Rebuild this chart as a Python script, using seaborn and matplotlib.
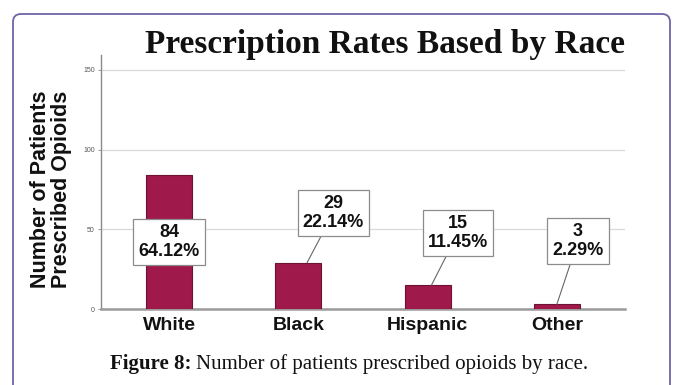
import matplotlib
matplotlib.use("Agg")
import matplotlib.pyplot as plt
from matplotlib.patches import FancyBboxPatch
from matplotlib.transforms import IdentityTransform
import seaborn as sns
import pandas as pd

# ---- data ----
races = ["White", "Black", "Hispanic", "Other"]
counts = [84, 29, 15, 3]
y_ticks = [0, 50, 100, 150]
title = "Prescription Rates Based by Race"
ylabel = "Number of Patients\nPrescribed Opioids"
caption_bold = "Figure 8:"
caption_rest = "Number of patients prescribed opioids by race."

# label box placement (styling): (x offset from bar centre, y of box centre), leader anchor x offset
label_pos = [(0.0, 42.0), (0.27, 60.3), (0.235, 47.7), (0.163, 42.7)]
leader_dx = [None, 0.067, 0.03, 0.0]

sns.set_theme(style="white")
plt.rcParams['font.family'] = ['Liberation Sans', 'DejaVu Sans']

df = pd.DataFrame({"race": races, "count": counts})
total = sum(counts)

fig = plt.figure(figsize=(6.8, 3.85), dpi=100)
ax = fig.add_axes([101 / 680, 1 - 309 / 385, 524 / 680, 254 / 385])

sns.barplot(data=df, x="race", y="count", color="#A0194B", saturation=1,
            width=0.355, edgecolor="#6e1233", linewidth=0.8, ax=ax, zorder=3)

ax.set_xlim(-0.527, 3.527)
ax.set_ylim(0, 159.4)
ax.set_yticks(y_ticks)
ax.set_yticklabels([str(t) for t in y_ticks], fontsize=5, color="#555555")
ax.grid(axis="y", color="#d9d9d9", linewidth=0.9, zorder=0)
ax.grid(axis="x", visible=False)
for s in ["top", "right"]:
    ax.spines[s].set_visible(False)
ax.spines["left"].set_color("#8a8a8a")
ax.spines["left"].set_linewidth(1.0)
ax.spines["bottom"].set_color("#9a9a9a")
ax.spines["bottom"].set_linewidth(1.8)
ax.tick_params(axis="y", length=2.5, width=0.6, color="#8a8a8a", pad=2, left=True)
ax.tick_params(axis="x", length=0, pad=6)
ax.set_xlabel("")
for lab in ax.get_xticklabels():
    lab.set_fontsize(14)
    lab.set_fontweight("bold")
    lab.set_color("#111111")

ax.set_ylabel(ylabel, fontsize=15.5, fontweight="bold", color="#111111", linespacing=0.95)
ax.yaxis.set_label_coords(-0.056, 0.47)

# value labels
for i, (c, (dx, yc), ld) in enumerate(zip(counts, label_pos, leader_dx)):
    txt = f"{c}\n{c / total * 100:.2f}%"
    bbox = dict(boxstyle="square,pad=0.28", fc="white", ec="#8c8c8c", lw=0.9)
    if ld is None:
        ax.text(i + dx, yc, txt, ha="center", va="center", fontsize=13,
                fontweight="bold", color="#111111", linespacing=1.12,
                bbox=bbox, zorder=5)
    else:
        ax.annotate(txt, xy=(i + ld, c), xytext=(i + dx, yc),
                    ha="center", va="center", fontsize=13, fontweight="bold",
                    color="#111111", linespacing=1.12, bbox=bbox, zorder=5,
                    arrowprops=dict(arrowstyle="-", color="#666666", lw=0.8,
                                    shrinkA=0, shrinkB=0))

# title
fig.text(385 / 680, 1 - 53 / 385, title, ha="center", va="baseline",
         fontsize=24, fontweight="bold", family="Liberation Serif", color="#111111")

# caption
t1 = fig.text(110 / 680, 1 - 369 / 385, caption_bold, ha="left", va="baseline",
              fontsize=15, fontweight="bold", family="Liberation Serif", color="#111111")
fig.canvas.draw()
bb = t1.get_window_extent()
fig.text((bb.x1 + 5) / 680, 1 - 369 / 385, caption_rest, ha="left", va="baseline",
         fontsize=15, family="Liberation Serif", color="#111111")

# frame border
frame = FancyBboxPatch((13, -20), 657, 385 - 14 + 20,
                       boxstyle="round,pad=0,rounding_size=8",
                       transform=IdentityTransform(), fill=False,
                       ec="#6f64a8", lw=1.3)
fig.patches.append(frame)

fig.savefig("out.png", dpi=100)
